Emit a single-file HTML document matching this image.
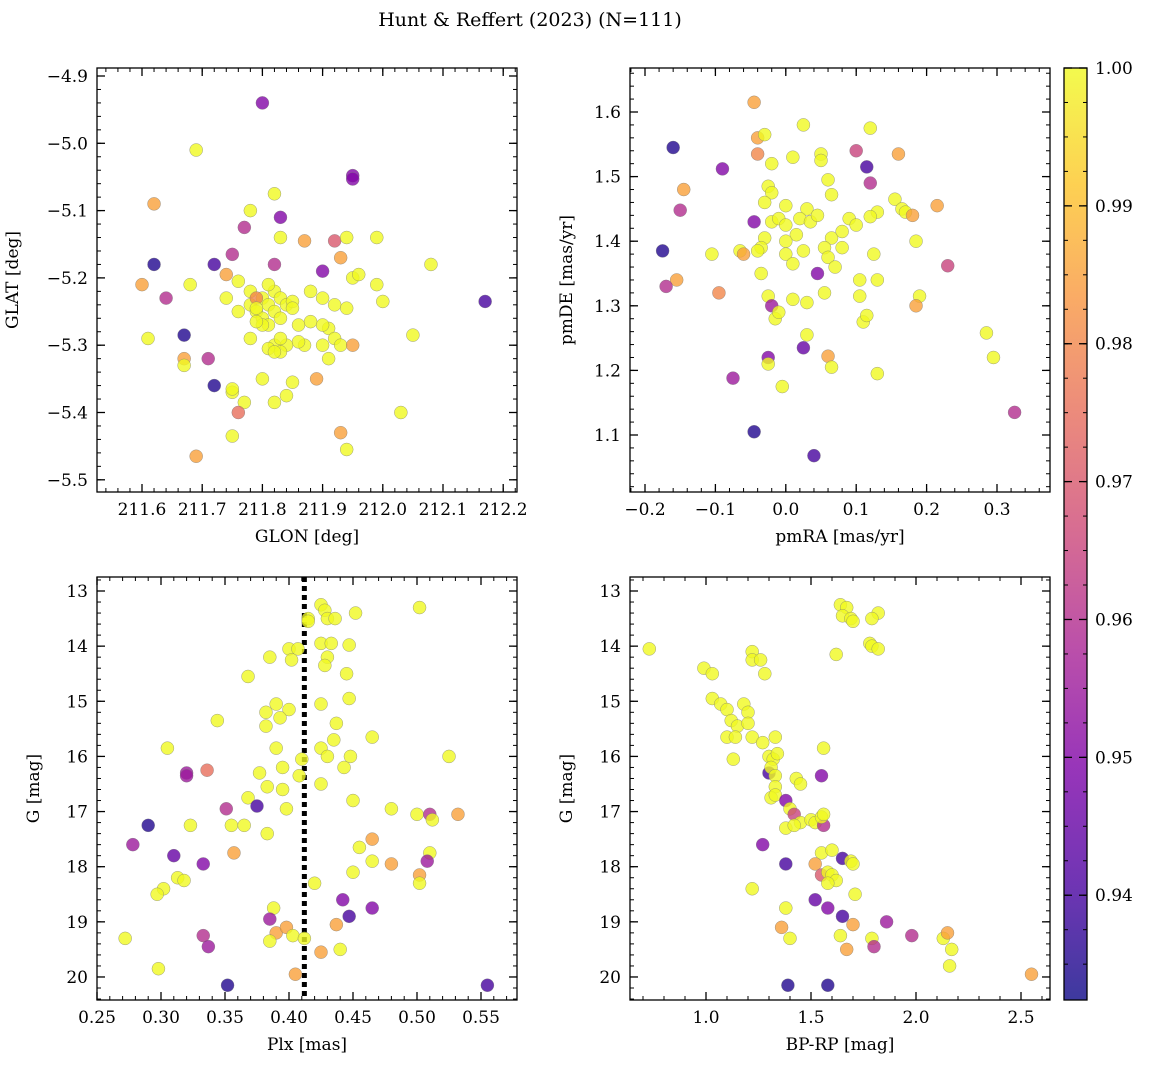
<!DOCTYPE html>
<html><head><meta charset="utf-8"><style>
body{margin:0;background:#fff;}
svg{display:block;font-family:"DejaVu Serif","Liberation Serif",serif;}
</style></head><body>
<svg id="fig" width="1149" height="1067" viewBox="0 0 1149 1067">
<defs><linearGradient id="plasma" x1="0" y1="1" x2="0" y2="0">
<stop offset="0" stop-color="#0d0887"/><stop offset="0.125" stop-color="#4c02a1"/><stop offset="0.25" stop-color="#7e03a8"/><stop offset="0.375" stop-color="#a92395"/><stop offset="0.5" stop-color="#cc4778"/><stop offset="0.625" stop-color="#e66c5c"/><stop offset="0.75" stop-color="#f89540"/><stop offset="0.875" stop-color="#fdc527"/><stop offset="1" stop-color="#f0f921"/></linearGradient></defs>
<text x="530" y="26" font-size="19" text-anchor="middle">Hunt &amp; Reffert (2023) (N=111)</text>
</svg>
<script>
// Panel 1: GLON vs GLAT
const p1x=[211.80,211.69,211.95,211.95,211.62,211.78,211.82,211.83,211.77,211.83,211.87,211.92,211.94,211.99,211.62,211.72,211.75,211.82,211.90,211.93,212.08,211.60,211.64,211.68,211.74,211.74,211.76,211.95,211.96,211.99,212.00,212.17,211.78,211.79,211.80,211.80,211.81,211.81,211.82,211.82,211.83,211.83,211.84,211.85,211.85,211.80,211.79,211.76,211.78,211.81,211.86,211.79,211.79,211.88,211.90,211.92,211.94,211.91,211.90,211.92,211.93,211.90,211.87,211.86,211.84,211.82,211.83,211.81,211.83,211.91,211.95,211.88,211.61,211.67,211.67,211.67,211.71,211.78,211.82,211.80,212.05,211.85,211.89,211.72,211.75,211.75,211.77,211.82,211.84,211.76,212.03,211.93,211.75,211.94,211.69];
const p1y=[-4.94,-5.01,-5.048,-5.053,-5.09,-5.10,-5.075,-5.11,-5.125,-5.14,-5.145,-5.145,-5.14,-5.14,-5.18,-5.18,-5.165,-5.18,-5.19,-5.17,-5.18,-5.21,-5.23,-5.21,-5.195,-5.23,-5.205,-5.20,-5.195,-5.21,-5.235,-5.235,-5.24,-5.25,-5.23,-5.26,-5.24,-5.27,-5.22,-5.25,-5.23,-5.26,-5.24,-5.235,-5.245,-5.27,-5.265,-5.25,-5.22,-5.21,-5.27,-5.23,-5.245,-5.22,-5.23,-5.24,-5.245,-5.275,-5.27,-5.29,-5.30,-5.30,-5.30,-5.295,-5.30,-5.30,-5.31,-5.305,-5.29,-5.32,-5.30,-5.265,-5.29,-5.285,-5.32,-5.33,-5.32,-5.29,-5.31,-5.35,-5.285,-5.355,-5.35,-5.36,-5.37,-5.365,-5.385,-5.385,-5.375,-5.40,-5.40,-5.43,-5.435,-5.455,-5.465];
const p1c=[0.95,1,0.95,0.95,0.985,1,1,0.95,0.96,1,0.985,0.97,1,1,0.935,0.94,0.96,0.96,0.95,0.985,1,0.985,0.96,1,0.985,1,1,1,1,1,1,0.94,1,1,1,1,1,1,1,1,1,1,1,1,1,1,1,1,1,1,1,0.98,1,1,1,1,1,1,1,1,1,1,1,1,1,1,1,1,1,1,0.985,1,1,0.935,0.985,1,0.96,1,1,1,1,1,0.985,0.935,1,1,1,1,1,0.975,1,0.985,1,1,0.985];
// Panel 2: pmRA vs pmDE
const p2x=[-0.045,-0.04,-0.03,0.025,0.12,-0.16,-0.04,0.05,0.05,0.1,0.16,0.115,-0.09,-0.02,0.01,-0.145,-0.15,0.06,0.12,0.065,-0.025,-0.02,-0.03,0.0,0.03,0.155,0.165,0.17,0.18,0.215,0.13,0.12,-0.045,-0.02,-0.01,0.0,0.02,0.035,0.045,0.09,0.1,0.015,0.0,-0.03,0.065,0.08,0.08,0.055,-0.035,0.185,-0.175,-0.105,-0.065,-0.06,-0.04,0.0,0.025,0.06,0.07,0.125,-0.155,-0.035,0.01,0.045,0.105,0.13,0.23,-0.17,-0.095,-0.025,-0.02,0.055,0.03,0.01,0.105,0.11,0.115,0.19,0.185,-0.015,-0.01,0.03,0.285,0.025,-0.025,0.06,0.065,-0.025,0.295,0.13,-0.075,-0.005,0.325,-0.045,0.04];
const p2y=[1.615,1.56,1.565,1.58,1.575,1.545,1.535,1.535,1.525,1.54,1.535,1.515,1.512,1.52,1.53,1.48,1.448,1.495,1.49,1.472,1.485,1.475,1.46,1.455,1.45,1.465,1.45,1.445,1.44,1.455,1.445,1.438,1.43,1.43,1.435,1.425,1.435,1.43,1.44,1.435,1.425,1.41,1.40,1.405,1.405,1.415,1.39,1.39,1.39,1.40,1.385,1.38,1.385,1.38,1.385,1.38,1.385,1.375,1.36,1.38,1.34,1.35,1.365,1.35,1.34,1.34,1.362,1.33,1.32,1.315,1.30,1.32,1.305,1.31,1.315,1.275,1.285,1.315,1.30,1.28,1.29,1.255,1.258,1.235,1.22,1.222,1.205,1.21,1.22,1.195,1.188,1.175,1.135,1.105,1.068];
const p2c=[0.985,0.985,1,1,1,0.935,0.98,1,1,0.965,0.985,0.94,0.95,1,1,0.985,0.96,1,0.96,1,1,1,1,1,1,1,1,1,0.985,0.985,1,1,0.95,1,1,1,1,1,1,1,1,1,1,1,1,1,1,1,1,1,0.935,1,1,0.985,1,1,1,1,1,1,0.985,1,1,0.95,1,1,0.965,0.96,0.98,1,0.955,1,1,1,1,1,1,1,0.985,1,1,1,1,0.945,0.95,0.985,1,1,1,1,0.955,1,0.96,0.935,0.94];
// Panel 3: Plx vs G
const p3x=[0.425,0.428,0.502,0.452,0.415,0.43,0.436,0.415,0.40,0.407,0.425,0.433,0.447,0.385,0.402,0.43,0.428,0.445,0.368,0.39,0.40,0.382,0.447,0.425,0.344,0.393,0.382,0.437,0.305,0.39,0.435,0.425,0.465,0.43,0.448,0.525,0.41,0.395,0.443,0.377,0.408,0.32,0.32,0.336,0.383,0.395,0.425,0.368,0.45,0.351,0.375,0.398,0.48,0.5,0.51,0.532,0.512,0.29,0.323,0.355,0.365,0.383,0.465,0.278,0.357,0.31,0.333,0.455,0.465,0.48,0.51,0.508,0.313,0.318,0.302,0.297,0.42,0.45,0.502,0.502,0.442,0.388,0.465,0.447,0.385,0.39,0.398,0.403,0.412,0.385,0.333,0.337,0.272,0.425,0.437,0.44,0.298,0.405,0.352,0.555];
const p3y=[13.25,13.35,13.3,13.4,13.5,13.5,13.5,13.55,14.05,14.05,13.95,13.95,13.98,14.2,14.25,14.2,14.35,14.5,14.55,15.05,15.15,15.2,14.95,15.05,15.35,15.3,15.45,15.4,15.85,15.85,15.7,15.85,15.65,16.0,16.0,16.0,16.05,16.2,16.2,16.3,16.35,16.3,16.35,16.25,16.55,16.6,16.5,16.75,16.8,16.95,16.9,16.95,16.95,17.05,17.05,17.05,17.15,17.25,17.25,17.25,17.25,17.4,17.5,17.6,17.75,17.8,17.95,17.65,17.9,17.95,17.75,17.9,18.2,18.25,18.4,18.5,18.3,18.1,18.15,18.3,18.6,18.75,18.75,18.9,18.95,19.2,19.1,19.25,19.3,19.35,19.25,19.45,19.3,19.55,19.05,19.5,19.85,19.95,20.15,20.15];
const p3c=[1,1,1,1,1,1,1,1,1,1,1,1,1,1,1,1,1,1,1,1,1,1,1,1,1,1,1,1,1,1,1,1,1,1,1,1,1,1,1,1,1,0.955,0.955,0.975,1,1,1,1,1,0.96,0.94,1,1,1,0.96,0.985,1,0.935,1,1,1,1,0.985,0.955,0.985,0.945,0.95,1,1,0.985,1,0.955,1,1,1,1,1,1,0.985,1,0.95,1,0.95,0.94,0.955,0.985,0.985,1,1,1,0.96,0.955,1,0.985,0.985,1,1,0.985,0.935,0.94];
const plxLine=0.412;
// Panel 4: BP-RP vs G
const p4x=[1.64,1.67,1.65,1.69,1.7,1.82,1.79,1.78,1.79,1.82,1.62,0.73,0.99,1.03,1.22,1.22,1.26,1.28,1.03,1.07,1.1,1.12,1.15,1.18,1.2,1.2,1.1,1.14,1.13,1.22,1.27,1.33,1.3,1.32,1.34,1.56,1.3,1.31,1.33,1.33,1.31,1.33,1.43,1.45,1.55,1.38,1.4,1.42,1.45,1.5,1.52,1.56,1.55,1.56,1.38,1.42,1.27,1.38,1.55,1.6,1.65,1.69,1.7,1.52,1.55,1.58,1.6,1.62,1.58,1.22,1.71,1.52,1.58,1.65,1.38,1.36,1.4,1.64,1.7,1.79,1.8,1.86,1.98,2.13,2.15,2.17,2.16,1.67,2.55,1.39,1.58];
const p4y=[13.25,13.3,13.45,13.5,13.55,13.4,13.5,13.95,14.0,14.05,14.15,14.05,14.4,14.5,14.1,14.25,14.25,14.5,14.95,15.05,15.15,15.35,15.45,15.05,15.2,15.4,15.65,15.65,16.05,15.65,15.75,15.65,16.0,16.05,15.95,15.85,16.3,16.2,16.35,16.55,16.75,16.7,16.4,16.5,16.35,16.8,16.95,17.05,17.2,17.15,17.2,17.25,17.1,17.05,17.3,17.25,17.6,17.95,17.75,17.7,17.85,17.9,17.95,17.95,18.15,18.1,18.15,18.25,18.3,18.4,18.5,18.6,18.75,18.9,18.75,19.1,19.3,19.25,19.05,19.3,19.45,19.0,19.25,19.3,19.2,19.5,19.8,19.5,19.95,20.15,20.15];
const p4c=[1,1,1,1,1,1,1,1,1,1,1,1,1,1,1,1,1,1,1,1,1,1,1,1,1,1,1,1,1,1,1,1,1,1,1,1,0.94,1,1,1,1,1,1,1,0.95,0.95,1,0.965,1,1,1,0.96,1,1,1,1,0.95,0.94,1,1,0.94,1,1,0.985,0.97,1,1,1,1,1,1,0.945,0.95,0.94,1,0.985,1,1,0.985,1,0.96,0.955,0.96,1,0.985,1,1,0.985,0.985,0.935,0.935];
const cbTicks=[0.94,0.95,0.96,0.97,0.98,0.99,1.00];
const cMin=0.9324,cMax=1.0;

const NS="http://www.w3.org/2000/svg";
const svg=document.getElementById('fig');
function mk(tag,attrs,parent){const e=document.createElementNS(NS,tag);for(const k in attrs)e.setAttribute(k,attrs[k]);(parent||svg).appendChild(e);return e;}
const stops=[[0,[13,8,135]],[0.125,[76,2,161]],[0.25,[126,3,168]],[0.375,[169,35,149]],[0.5,[204,71,120]],[0.625,[230,108,92]],[0.75,[248,149,64]],[0.875,[253,197,39]],[1,[240,249,33]]];
function plasma(v){let t=(v-cMin)/(cMax-cMin);t=Math.max(0,Math.min(1,t));for(let i=1;i<stops.length;i++){if(t<=stops[i][0]){const a=stops[i-1],b=stops[i];const f=(t-a[0])/(b[0]-a[0]);const c=a[1].map((x,j)=>Math.round(x+(b[1][j]-x)*f));return `rgb(${c[0]},${c[1]},${c[2]})`;}}return 'rgb(240,249,33)';}
function fmt(v,d){const s=Math.abs(v).toFixed(d);return (v<-1e-9?'\u2212':'')+s;}
function panel(o){
  const {name,L,T,R,B,x0,x1,y0,y1,xMaj,xMin,yMaj,yMin,xd,yd,xlab,ylab,xs,ys,cs}=o;
  const g=mk('g',{});
  
  
  const sx=v=>L+(v-x0)/(x1-x0)*(R-L);
  const sy=v=>T+(v-y0)/(y1-y0)*(B-T);
  const e=1e-9;
  const xa=Math.min(x0,x1),xb=Math.max(x0,x1),ya=Math.min(y0,y1),yb=Math.max(y0,y1);
  for(let v=Math.ceil(xa/xMin-e)*xMin;v<=xb+e;v+=xMin){const X=sx(v);mk('line',{x1:X,x2:X,y1:B,y2:B-4,stroke:'#000','stroke-width':1},g);mk('line',{x1:X,x2:X,y1:T,y2:T+4,stroke:'#000','stroke-width':1},g);}
  for(let v=Math.ceil(ya/yMin-e)*yMin;v<=yb+e;v+=yMin){const Y=sy(v);mk('line',{x1:L,x2:L+4,y1:Y,y2:Y,stroke:'#000','stroke-width':1},g);mk('line',{x1:R,x2:R-4,y1:Y,y2:Y,stroke:'#000','stroke-width':1},g);}
  for(let v=Math.ceil(xa/xMaj-e)*xMaj;v<=xb+e;v+=xMaj){const X=sx(v);mk('line',{x1:X,x2:X,y1:B,y2:B-8,stroke:'#000','stroke-width':1.3},g);mk('line',{x1:X,x2:X,y1:T,y2:T+8,stroke:'#000','stroke-width':1.3},g);const t=mk('text',{x:X,y:B+23,'font-size':17,'text-anchor':'middle'},g);t.textContent=fmt(v,xd);}
  for(let v=Math.ceil(ya/yMaj-e)*yMaj;v<=yb+e;v+=yMaj){const Y=sy(v);mk('line',{x1:L,x2:L+8,y1:Y,y2:Y,stroke:'#000','stroke-width':1.3},g);mk('line',{x1:R,x2:R-8,y1:Y,y2:Y,stroke:'#000','stroke-width':1.3},g);const t=mk('text',{x:L-9,y:Y+6,'font-size':17,'text-anchor':'end'},g);t.textContent=fmt(v,yd);}
  if(o.vline!==undefined){const l=mk('line',{x1:sx(o.vline),x2:sx(o.vline),y1:T,y2:B,stroke:'#000','stroke-width':5,'stroke-dasharray':'5,4'},g);}
  for(let i=0;i<xs.length;i++){const c=mk('circle',{cx:sx(xs[i]),cy:sy(ys[i]),r:6.5,fill:plasma(cs[i]),'fill-opacity':0.8,stroke:'#777','stroke-width':0.5,'stroke-opacity':0.7},g);}
  const fr=mk('rect',{x:L,y:T,width:R-L,height:B-T,fill:'none',stroke:'#000','stroke-width':1.3},g);
  
  const xl=mk('text',{x:(L+R)/2,y:B+50,'font-size':17,'text-anchor':'middle'},g);xl.textContent=xlab;
  
  const yx=L-(o.ylOff||70),ym=(T+B)/2;
  const yl=mk('text',{x:yx,y:ym,'font-size':17,'text-anchor':'middle',transform:`rotate(-90 ${yx} ${ym})`},g);yl.textContent=ylab;
  
}
panel({name:'glon-glat-panel',L:97,T:68,R:517,B:492,x0:211.6-45/602,x1:211.6+(517-142)/602*1,y0:-4.9+8/673,y1:-4.9-416/673,xMaj:0.1,xMin:0.02,yMaj:0.1,yMin:0.02,xd:1,yd:1,xlab:'GLON [deg]',ylab:'GLAT [deg]',xs:p1x,ys:p1y,cs:p1c,ylOff:79});
panel({name:'pm-panel',L:630,T:68,R:1050,B:492,x0:-0.2-15/704,x1:-0.2+405/704,y0:1.6+44/646,y1:1.6-380/646,xMaj:0.1,xMin:0.02,yMaj:0.1,yMin:0.02,xd:1,yd:1,xlab:'pmRA [mas/yr]',ylab:'pmDE [mas/yr]',xs:p2x,ys:p2y,cs:p2c,ylOff:58});
panel({name:'plx-g-panel',L:97,T:577,R:517,B:1000,x0:0.25,x1:0.25+420/1280,y0:13-14/55.14,y1:13+409/55.14,xMaj:0.05,xMin:0.01,yMaj:1,yMin:0.2,xd:2,yd:0,xlab:'Plx [mas]',ylab:'G [mag]',xs:p3x,ys:p3y,cs:p3c,vline:plxLine,ylOff:58});
panel({name:'cmd-panel',L:630,T:577,R:1050,B:1000,x0:1.0-76/210,x1:1.0+344/210,y0:13-14/55.14,y1:13+409/55.14,xMaj:0.5,xMin:0.1,yMaj:1,yMin:0.2,xd:1,yd:0,xlab:'BP-RP [mag]',ylab:'G [mag]',xs:p4x,ys:p4y,cs:p4c,ylOff:58});
// colorbar
const cb=mk('g',{});


mk('rect',{x:1064,y:68,width:23,height:932,fill:'url(#plasma)','fill-opacity':0.8},cb);
mk('rect',{x:1064,y:68,width:23,height:932,fill:'none',stroke:'#000','stroke-width':1.3},cb);
const cy=v=>1000-(v-cMin)/(cMax-cMin)*932;
for(let v=0.935;v<=1.0001;v+=0.0025){const Y=cy(v);mk('line',{x1:1087,x2:1083,y1:Y,y2:Y,stroke:'#000','stroke-width':1},cb);mk('line',{x1:1064,x2:1068,y1:Y,y2:Y,stroke:'#000','stroke-width':1},cb);}
for(const v of cbTicks){const Y=cy(v);mk('line',{x1:1087,x2:1079,y1:Y,y2:Y,stroke:'#000','stroke-width':1.3},cb);mk('line',{x1:1064,x2:1072,y1:Y,y2:Y,stroke:'#000','stroke-width':1.3},cb);const t=mk('text',{x:1095,y:Y+6,'font-size':17},cb);t.textContent=v.toFixed(2);}
</script>
</body></html>
